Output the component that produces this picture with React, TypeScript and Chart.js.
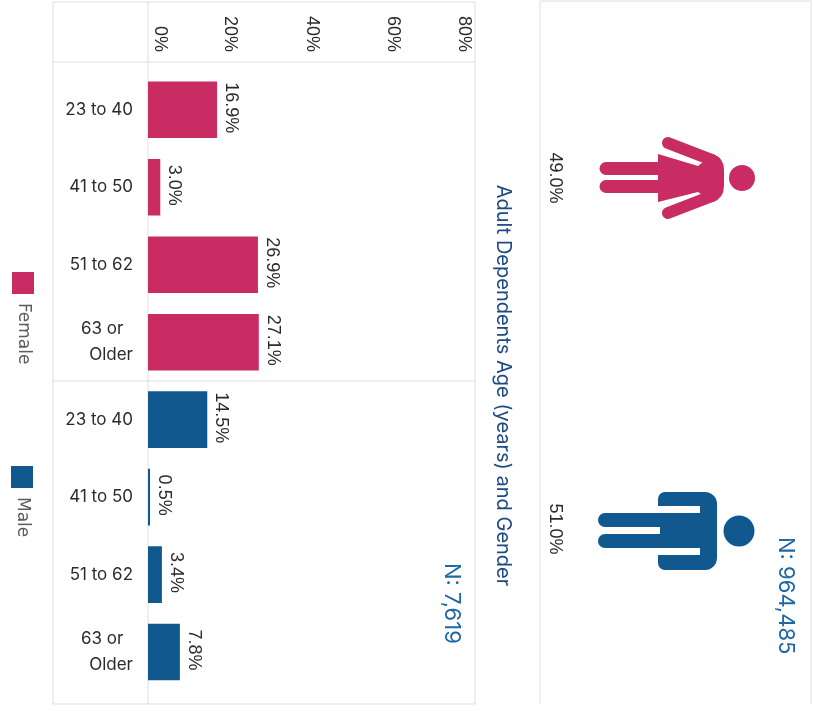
import React, { useEffect, useRef } from "react";
import { Chart, registerables } from "chart.js";

Chart.register(...registerables);

const categories = ["23 to 40", "41 to 50", "51 to 62", ["63 or  ", "Older"], "23 to 40", "41 to 50", "51 to 62", ["63 or  ", "Older"]];
const femaleValues = [16.9, 3.0, 26.9, 27.1, null, null, null, null];
const maleValues = [null, null, null, null, 14.5, 0.5, 3.4, 7.8];
const titleText = "Adult Dependents Age (years) and Gender";
const femaleShare = "49.0%";
const maleShare = "51.0%";
const populationN = "N: 964,485";
const sampleN = "N: 7,619";

const PINK = "#c92c62";
const BLUE = "#11588f";
const NAVY = "#1d4a85";
const LINKBLUE = "#1f68a8";
const INK = "#2b2b2b";
const LINE = "#dedede";
const LABEL_FONT = '18px "Liberation Sans"';

function vtext(ctx: CanvasRenderingContext2D, text: string, x: number, y: number, font: string, color: string, align: CanvasTextAlign = "left") {
  ctx.save();
  ctx.translate(x, y);
  ctx.rotate(Math.PI / 2);
  ctx.font = font;
  ctx.fillStyle = color;
  ctx.textAlign = align;
  ctx.textBaseline = "middle";
  ctx.fillText(text, 0, 0);
  ctx.restore();
}

function seg(ctx: CanvasRenderingContext2D, x1: number, y1: number, x2: number, y2: number) {
  ctx.beginPath();
  ctx.moveTo(x1, y1);
  ctx.lineTo(x2, y2);
  ctx.stroke();
}

const framePlugin = {
  id: "frame",
  beforeDatasetsDraw(chart: any) {
    const { ctx, chartArea: a } = chart;
    ctx.save();
    ctx.strokeStyle = LINE;
    ctx.lineWidth = 1;
    const mid = (chart.scales.y.getPixelForValue(3) + chart.scales.y.getPixelForValue(4)) / 2;
    seg(ctx, 53, 2, 53, 704);
    seg(ctx, 53, 2, a.right, 2);
    seg(ctx, a.right, 2, a.right, 704);
    seg(ctx, 53, 62, a.right, 62);
    seg(ctx, 53, mid, a.right, mid);
    seg(ctx, 53, 704, a.right, 704);
    seg(ctx, a.left, 2, a.left, 704);
    seg(ctx, 540, 1, 540, 704);
    seg(ctx, 540, 1, 811, 1);
    seg(ctx, 811, 1, 811, 704);
    ctx.restore();
  },
};

const textPlugin = {
  id: "texts",
  afterDatasetsDraw(chart: any) {
    const { ctx, chartArea: a, scales } = chart;
    // x-axis tick labels, rotated as in the scan
    scales.x.ticks.forEach((t: any, i: number) => {
      const px = scales.x.getPixelForTick(i);
      const x = Math.min(Math.max(px, a.left + 12), a.right - 11);
      vtext(ctx, t.label, x, 52, LABEL_FONT, INK, "right");
    });
    // value labels at the bar ends
    chart.data.datasets.forEach((ds: any, di: number) => {
      chart.getDatasetMeta(di).data.forEach((bar: any, i: number) => {
        const v = ds.data[i];
        if (v == null) return;
        vtext(ctx, v.toFixed(1) + "%", bar.x + 14, bar.y - 2, LABEL_FONT, INK, "center");
      });
    });
    // legend
    const legend = [
      { ds: 0, x: 12, y: 272 },
      { ds: 1, x: 11, y: 466 },
    ];
    legend.forEach(({ ds, x, y }) => {
      const d = chart.data.datasets[ds];
      ctx.fillStyle = d.backgroundColor;
      ctx.fillRect(x, y, 22, 22);
      vtext(ctx, d.label, x + 11, y + 31, '17px "DejaVu Sans"', "#5c5c5c", "left");
    });
    vtext(ctx, femaleShare, 555, 178, LABEL_FONT, INK, "center");
    vtext(ctx, maleShare, 555, 529, LABEL_FONT, INK, "center");
    vtext(ctx, populationN, 786, 537, '22px "Inter"', LINKBLUE);
    vtext(ctx, sampleN, 452, 563, '22px "Inter"', LINKBLUE);
    drawFemale(ctx);
    drawMale(ctx);
  },
};

function drawFemale(ctx: CanvasRenderingContext2D) {
  ctx.save();
  ctx.fillStyle = PINK;
  ctx.strokeStyle = PINK;
  ctx.lineCap = "round";
  ctx.beginPath();
  ctx.arc(742, 178, 13, 0, Math.PI * 2);
  ctx.fill();
  ctx.lineWidth = 13;
  seg(ctx, 606, 168.5, 665, 168.5);
  seg(ctx, 606, 186.5, 665, 186.5);
  ctx.lineWidth = 12;
  seg(ctx, 668, 143, 712, 160);
  seg(ctx, 668, 213, 712, 196);
  ctx.beginPath();
  ctx.moveTo(658, 154);
  ctx.lineTo(698, 166);
  ctx.lineTo(713, 154);
  ctx.quadraticCurveTo(724, 158, 724, 170);
  ctx.lineTo(724, 186);
  ctx.quadraticCurveTo(724, 198, 713, 202);
  ctx.lineTo(698, 192);
  ctx.lineTo(658, 202);
  ctx.closePath();
  ctx.fill();
  ctx.restore();
}

function drawMale(ctx: CanvasRenderingContext2D) {
  ctx.save();
  ctx.fillStyle = BLUE;
  ctx.strokeStyle = BLUE;
  ctx.lineCap = "round";
  ctx.beginPath();
  ctx.arc(739, 531, 15.5, 0, Math.PI * 2);
  ctx.fill();
  ctx.lineWidth = 14;
  seg(ctx, 605, 520, 665, 520);
  seg(ctx, 605, 541, 665, 541);
  ctx.beginPath();
  ctx.roundRect(658, 492, 59, 78, [7, 12, 12, 7]);
  ctx.fill();
  ctx.fillStyle = "#ffffff";
  ctx.fillRect(650, 506, 50, 7);
  ctx.fillRect(650, 548, 50, 7);
  ctx.fillRect(650, 527, 10, 7);
  ctx.restore();
}

export default function App() {
  const ref = useRef<HTMLCanvasElement>(null);
  useEffect(() => {
    document.body.style.margin = "0";
    const chart = new Chart(ref.current!, {
      type: "bar",
      data: {
        labels: categories as any,
        datasets: [
          { label: "Female", data: femaleValues, backgroundColor: PINK },
          { label: "Male", data: maleValues, backgroundColor: BLUE },
        ],
      },
      options: {
        indexAxis: "y",
        responsive: false,
        animation: false,
        devicePixelRatio: 1,
        layout: { padding: { left: 0, top: 63, bottom: 3, right: 279 } },
        datasets: { bar: { grouped: false, categoryPercentage: 1, barPercentage: 0.73 } },
        plugins: {
          legend: { display: false },
          tooltip: { enabled: false },
          title: {
            display: true,
            text: titleText,
            position: "right",
            color: NAVY,
            font: { family: "Inter", size: 20, weight: "normal" },
            padding: { top: 20, bottom: 16 },
          },
        },
        scales: {
          x: {
            position: "top",
            min: 0,
            max: 80,
            ticks: { display: false, stepSize: 20, callback: (v: any) => v + "%" },
            grid: { display: false },
            border: { display: false },
          },
          y: {
            grid: { display: false },
            border: { display: false },
            afterFit: (s: any) => {
              s.width = 148;
            },
            ticks: {
              color: INK,
              padding: 7,
              font: { family: "Inter", size: 17, lineHeight: 1.55 },
              autoSkip: false,
            },
          },
        },
      } as any,
      plugins: [framePlugin, textPlugin],
    });
    return () => chart.destroy();
  }, []);
  return <canvas ref={ref} width={814} height={711} style={{ display: "block" }} />;
}
